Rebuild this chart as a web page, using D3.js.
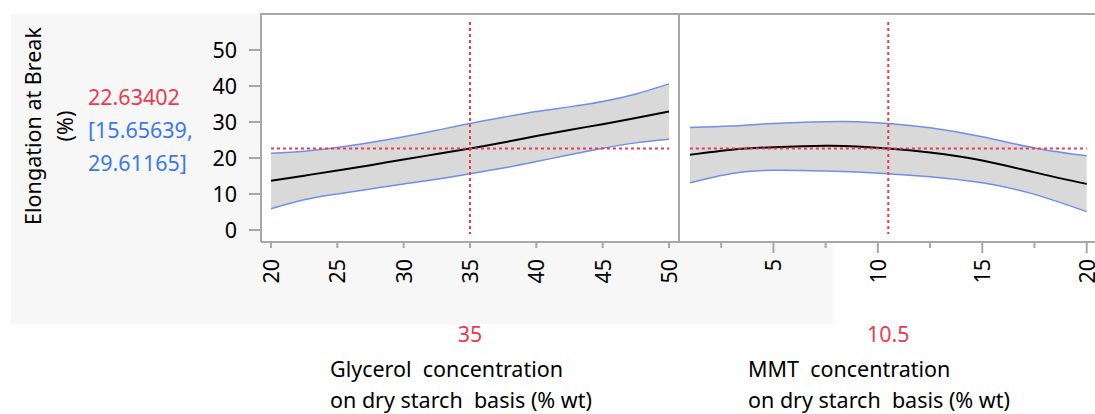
<!DOCTYPE html>
<html><head><meta charset="utf-8">
<script src="https://cdn.jsdelivr.net/npm/d3@7"></script>
<style>
body{margin:0;background:#fff;}
svg{display:block;font-family:"Noto Sans","Open Sans",sans-serif;}
text{white-space:pre;}
</style></head>
<body><svg id="c" width="1095" height="414"></svg>
<script>
// ---- data ----
const yTicks = [0,10,20,30,40,50];
const glyTicks = [20,25,30,35,40,45,50];
const mmtMajor = [5,10,15,20];
const mmtMinor = [2.5,7.5,12.5,17.5];

const glyX     = [20,22.5,25,27.5,30,32.5,35,37.5,40,42.5,45,47.5,50];
const glyMean  = [13.7,15.1,16.5,18.0,19.6,21.1,22.63,24.3,26.1,27.8,29.4,31.1,32.9];
const glyUpper = [21.3,21.9,22.9,24.3,25.9,27.7,29.61,31.3,32.9,34.2,35.7,37.8,40.6];
const glyLower = [5.9,8.4,10.0,11.4,12.8,14.1,15.65,17.2,19.0,20.9,22.7,24.2,25.2];

const mmtX     = [1,3,5,7.5,9,10.5,12.5,15,17.5,20];
const mmtMean  = [20.9,22.3,23.0,23.4,23.2,22.63,21.5,19.3,16.0,12.8];
const mmtUpper = [28.5,28.9,29.6,30.1,30.1,29.61,28.4,25.9,22.8,20.6];
const mmtLower = [13.1,15.7,16.6,16.4,16.1,15.65,14.8,13.1,9.9,5.1];

const predValue = 22.63402;
const ciLow = "15.65639", ciHigh = "29.61165";
const glySetting = 35, mmtSetting = 10.5;
const yTitle = ["Elongation at Break","(%)"];
const glyTitle = ["Glycerol  concentration","on dry starch  basis (% wt)"];
const mmtTitle = ["MMT  concentration","on dry starch  basis (% wt)"];

// ---- drawing ----
(function(){
const svg = d3.select("#c");
const RED = "#ee3a50", BLUE = "#3b78ee", BAND = "#6e90e6", FRAME = "#a8a8a8";
const FS = 21.5;
const pTop = 14, pBottom = 242;
const y = d3.scaleLinear().domain([0,50]).range([230,50]);

svg.append("rect").attr("x",11).attr("y",14).attr("width",822).attr("height",310).attr("fill","#f7f7f7");

const panels = [
  {x: d3.scaleLinear().domain([20,50]).range([271,669]), left:261, right:679,
   xs:glyX, m:glyMean, u:glyUpper, l:glyLower, set:glySetting, ticks:glyTicks, minor:[], tickLen:6, label:String(glySetting), title:glyTitle, tx:330},
  {x: d3.scaleLinear().domain([0,20]).range([669,1086.7]), left:679, right:1100,
   xs:mmtX, m:mmtMean, u:mmtUpper, l:mmtLower, set:mmtSetting, ticks:mmtMajor, minor:mmtMinor, tickLen:11, label:String(mmtSetting), title:mmtTitle, tx:748}
];

panels.forEach(p=>{
  const g = svg.append("g");
  g.append("rect").attr("x",p.left).attr("y",pTop).attr("width",p.right-p.left).attr("height",pBottom-pTop).attr("fill","#fff");
  const pts = p.xs.map((v,i)=>({x:v,m:p.m[i],u:p.u[i],l:p.l[i]}));
  const cv = d3.curveNatural;
  const area = d3.area().x(d=>p.x(d.x)).y0(d=>y(d.l)).y1(d=>y(d.u)).curve(cv);
  g.append("path").datum(pts).attr("d",area).attr("fill","#d9d9d9");
  const line = k => d3.line().x(d=>p.x(d.x)).y(d=>y(d[k])).curve(cv);
  g.append("path").datum(pts).attr("d",line("u")).attr("fill","none").attr("stroke",BAND).attr("stroke-width",1.5);
  g.append("path").datum(pts).attr("d",line("l")).attr("fill","none").attr("stroke",BAND).attr("stroke-width",1.5);
  g.append("path").datum(pts).attr("d",line("m")).attr("fill","none").attr("stroke","#000").attr("stroke-width",2);
  const x0 = p.x(p.xs[0]), x1 = p.x(p.xs[p.xs.length-1]);
  g.append("line").attr("x1",x0).attr("x2",x1).attr("y1",y(predValue)).attr("y2",y(predValue))
    .attr("stroke",RED).attr("stroke-width",2).attr("stroke-dasharray","3,3");
  g.append("line").attr("x1",p.x(p.set)).attr("x2",p.x(p.set)).attr("y1",22).attr("y2",234)
    .attr("stroke",RED).attr("stroke-width",2).attr("stroke-dasharray","3,3");
  g.selectAll(".mt").data(p.ticks).join("line").attr("class","mt").attr("x1",d=>p.x(d)).attr("x2",d=>p.x(d))
    .attr("y1",pBottom).attr("y2",pBottom+p.tickLen).attr("stroke",FRAME).attr("stroke-width",2);
  g.selectAll(".mn").data(p.minor).join("line").attr("class","mn").attr("x1",d=>p.x(d)).attr("x2",d=>p.x(d))
    .attr("y1",pBottom).attr("y2",pBottom+6).attr("stroke",FRAME).attr("stroke-width",2);
  g.selectAll(".tl").data(p.ticks).join("text").attr("class","tl")
    .attr("transform",d=>`translate(${p.x(d)+8},259) rotate(-90)`)
    .attr("text-anchor","end").attr("font-size",FS).attr("fill","#000").text(d=>d);
  g.append("text").attr("x",p.x(p.set)).attr("y",342).attr("text-anchor","middle").attr("font-size",FS).attr("fill",RED).text(p.label);
  p.title.forEach((t,i)=>g.append("text").attr("x",p.tx).attr("y",377+i*31).attr("font-size",FS).attr("fill","#000").text(t));
});

const fr = svg.append("g").attr("stroke",FRAME).attr("stroke-width",2).attr("fill","none");
fr.append("path").attr("d",`M261,${pBottom}V${pTop}H1095`);
fr.append("path").attr("d",`M261,${pBottom}H1095`);
fr.append("path").attr("d",`M679,${pTop}V${pBottom}`);

svg.selectAll(".yt").data(yTicks).join("line").attr("class","yt").attr("x1",249).attr("x2",261).attr("y1",d=>y(d)).attr("y2",d=>y(d))
  .attr("stroke",FRAME).attr("stroke-width",2);
svg.selectAll(".yl").data(yTicks).join("text").attr("class","yl").attr("x",237).attr("y",d=>y(d)+8).attr("text-anchor","end")
  .attr("font-size",FS).attr("fill","#000").text(d=>d);

yTitle.forEach((t,i)=>svg.append("text").attr("transform",`translate(${41+i*32},${126}) rotate(-90)`)
  .attr("text-anchor","middle").attr("font-size",FS).attr("fill","#000").text(t));

svg.append("text").attr("x",88).attr("y",105).attr("font-size",FS).attr("fill",RED).text(String(predValue));
svg.append("text").attr("x",88).attr("y",138).attr("font-size",FS).attr("fill",BLUE).text(`[${ciLow},`);
svg.append("text").attr("x",88).attr("y",171).attr("font-size",FS).attr("fill",BLUE).text(`${ciHigh}]`);
})();
</script></body></html>
